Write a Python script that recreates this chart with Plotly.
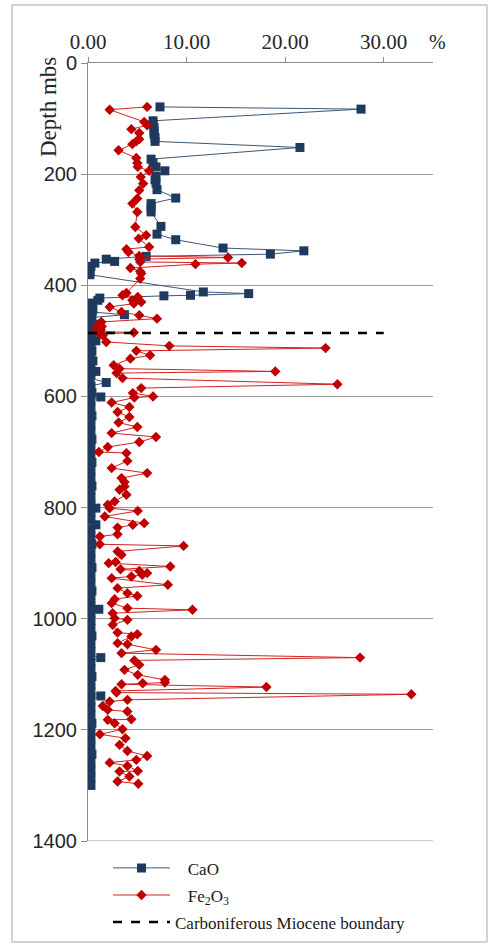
import plotly.graph_objects as go

# ---------------- data ----------------
cao_depth = [79, 83, 104, 110, 116, 122, 128, 134, 141, 152, 173, 180, 187, 194, 204, 210, 216, 228,
             243, 253, 260, 268, 294, 308, 318, 333, 338, 344, 348, 353, 357, 360, 366, 371, 376, 381,
             412, 415, 418, 419, 423, 427, 432, 437, 443, 448, 453, 458, 464, 470, 476, 482, 488, 494,
             500, 506, 512, 518, 524, 530, 536, 542, 548, 555, 561, 567, 575, 581, 587, 593, 601, 607,
             614, 621, 628, 635, 642, 649, 656, 663, 670, 677, 684, 691, 698, 705, 712, 719, 726, 733,
             740, 747, 754, 761, 768, 775, 782, 789, 795, 801, 808, 815, 822, 831, 838, 845, 852, 859,
             866, 873, 880, 887, 894, 901, 908, 915, 922, 929, 936, 943, 950, 957, 964, 971, 978, 983,
             989, 996, 1003, 1010, 1017, 1024, 1031, 1038, 1045, 1052, 1059, 1065, 1070, 1076, 1083,
             1090, 1097, 1104, 1111, 1118, 1125, 1132, 1139, 1146, 1153, 1160, 1167, 1174, 1181, 1188,
             1195, 1202, 1209, 1216, 1223, 1230, 1237, 1244, 1251, 1258, 1265, 1272, 1279, 1286, 1293, 1300]
cao_values = [7.3, 27.7, 6.6, 6.6, 6.7, 6.7, 6.7, 6.8, 6.8, 21.5, 6.4, 6.6, 6.9, 7.8, 6.9, 6.8, 6.9, 7.0,
              8.9, 6.4, 6.4, 6.4, 7.4, 7.0, 8.9, 13.7, 21.9, 18.5, 5.9, 1.85, 2.7, 0.7, 0.3, 0.2, 0.2, 0.2,
              11.7, 16.3, 10.4, 7.7, 1.2, 1.0, 0.3, 0.3, 0.5, 0.4, 3.7, 0.4, 0.3, 0.5, 0.2, 0.3, 0.4, 0.2,
              0.8, 0.3, 0.2, 0.4, 0.3, 0.2, 0.5, 0.3, 0.2, 0.8, 0.3, 0.2, 1.85, 0.3, 0.2, 0.4, 1.3, 0.3,
              0.2, 0.3, 0.2, 0.4, 0.2, 0.3, 0.2, 0.3, 0.2, 0.4, 0.2, 0.3, 0.2, 0.3, 0.2, 0.4, 0.2, 0.3,
              0.2, 0.3, 0.2, 0.4, 0.3, 0.2, 0.3, 0.2, 0.3, 0.8, 0.3, 0.2, 0.3, 0.8, 0.3, 0.2, 0.3, 0.2,
              0.4, 0.2, 0.3, 0.2, 0.3, 0.2, 0.4, 0.2, 0.3, 0.2, 0.3, 0.2, 0.4, 0.2, 0.3, 0.2, 0.3, 1.1,
              0.3, 0.2, 0.3, 0.2, 0.3, 0.2, 0.4, 0.2, 0.3, 0.2, 0.3, 0.2, 1.3, 0.3, 0.2,
              0.3, 0.2, 0.4, 0.2, 0.3, 0.2, 0.3, 1.3, 0.3, 0.2, 0.3, 0.2, 0.3, 0.2, 0.4,
              0.2, 0.3, 0.2, 0.3, 0.2, 0.3, 0.2, 0.4, 0.2, 0.3, 0.2, 0.3, 0.2, 0.3, 0.2, 0.3]

fe_depth = [79, 84, 106, 112, 119, 126, 137, 141, 146, 157, 171, 180, 187, 194, 205, 217, 229, 244, 253,
            268, 295, 310, 316, 331, 335, 340, 347, 350, 353, 358, 360, 362, 369, 375, 379, 388, 414, 418,
            421, 427, 430, 433, 439, 448, 454, 460, 466, 470, 474, 477, 480, 483, 485, 488, 490, 502, 509,
            513, 518, 526, 532, 544, 550, 555, 558, 567, 578, 585, 594, 600, 602, 611, 619, 628, 637, 647,
            655, 666, 673, 682, 691, 700, 702, 716, 729, 738, 747, 754, 762, 768, 777, 789, 795, 801, 806,
            816, 828, 831, 836, 848, 852, 866, 869, 879, 885, 898, 900, 906, 911, 914, 918, 921, 924, 927,
            939, 945, 954, 959, 965, 972, 981, 984, 990, 999, 1002, 1011, 1025, 1028, 1032, 1044, 1046,
            1056, 1062, 1070, 1075, 1083, 1092, 1101, 1110, 1115, 1116, 1118, 1123, 1130, 1133, 1136,
            1146, 1149, 1157, 1164, 1167, 1181, 1182, 1188, 1199, 1208, 1215, 1227, 1238, 1247, 1254,
            1259, 1265, 1274, 1275, 1284, 1293, 1297]
fe_values = [6.0, 2.2, 5.7, 6.0, 4.4, 5.2, 5.2, 4.9, 4.5, 3.1, 4.9, 5.0, 5.05, 6.2, 5.35, 5.6, 5.2, 5.0, 4.5,
             5.0, 4.8, 5.9, 5.15, 6.2, 3.9, 4.1, 5.2, 14.2, 5.2, 5.3, 15.6, 10.9, 4.3, 5.3, 5.4, 5.3, 3.9, 3.5,
             5.05, 4.5, 5.4, 4.65, 2.2, 3.4, 5.2, 7.0, 1.35, 1.1, 1.4, 0.9, 1.3, 1.0, 4.65, 1.2, 1.5, 1.85, 8.25,
             24.1, 4.9, 6.3, 4.3, 2.6, 3.2, 19.0, 2.9, 3.5, 25.3, 5.4, 4.55, 6.6, 4.7, 2.4, 4.2, 3.0, 4.2, 3.1,
             5.0, 2.4, 6.9, 5.2, 2.0, 1.1, 3.9, 4.0, 2.4, 6.0, 3.4, 3.7, 3.7, 3.2, 3.9, 2.7, 2.0, 2.2, 5.05,
             1.7, 5.7, 4.55, 3.0, 3.0, 1.2, 1.2, 9.7, 3.0, 3.4, 2.8, 2.1, 8.35, 3.3, 5.2, 6.0, 5.5, 4.4, 2.4,
             8.1, 3.0, 4.0, 5.0, 2.7, 2.4, 4.0, 10.6, 2.5, 2.7, 4.0, 2.5, 3.0, 5.0, 4.4, 3.0, 4.0,
             6.9, 3.4, 27.6, 4.7, 5.2, 3.7, 5.05, 7.8, 7.8, 5.55, 3.4, 18.1, 2.8, 2.9, 32.8,
             4.0, 2.2, 1.5, 2.0, 4.0, 4.4, 2.0, 2.7, 3.5, 1.2, 3.8, 3.2, 4.0, 6.0, 4.9,
             2.2, 4.0, 5.05, 3.2, 4.2, 3.0, 5.1]

boundary_depth = [486, 486]
boundary_x = [0, 30]

x_tick_vals = [0, 10, 20, 30]
x_tick_text = ["0.00", "10.00", "20.00", "30.00"]
y_tick_vals = [0, 200, 400, 600, 800, 1000, 1200, 1400]

# ---------------- figure ----------------
fig = go.Figure()

fig.add_trace(go.Scatter(
    x=cao_values, y=cao_depth, mode="lines+markers",
    name="\u00a0\u00a0\u00a0CaO", legendgroup="g1",
    line=dict(color="#3E5676", width=1),
    marker=dict(symbol="square", size=9, color="#1F3A5F"),
))
fig.add_trace(go.Scatter(
    x=fe_values, y=fe_depth, mode="lines+markers",
    name="\u00a0\u00a0\u00a0Fe<sub>2</sub>O<sub>3</sub>", legendgroup="g2",
    line=dict(color="#D42222", width=1),
    marker=dict(symbol="diamond", size=8, color="#C00000"),
))
fig.add_trace(go.Scatter(
    x=boundary_x, y=boundary_depth, mode="lines",
    name="Carboniferous Miocene boundary", legendgroup="g3",
    line=dict(color="black", width=2.5, dash="dash"),
))

fig.update_layout(
    width=490, height=946,
    margin=dict(l=88, r=57, t=63, b=105, autoexpand=False),
    paper_bgcolor="white", plot_bgcolor="white",
    showlegend=True,
    legend=dict(
        x=0.058, y=-0.012, xanchor="left", yanchor="top",
        font=dict(family="Liberation Serif", size=17, color="#1a1a1a"),
        itemwidth=57, bgcolor="rgba(0,0,0,0)", tracegroupgap=2,
    ),
    xaxis=dict(
        side="top", range=[0, 35], tickvals=x_tick_vals, ticktext=x_tick_text,
        showgrid=False, zeroline=False, showline=True, linecolor="#8C8C8C", linewidth=1,
        ticks="outside", ticklen=5, tickcolor="#8C8C8C",
        tickfont=dict(family="Liberation Serif", size=21, color="#262626"),
        automargin=False,
    ),
    yaxis=dict(
        range=[1400, 0], tickvals=y_tick_vals, ticksuffix="\u00a0\u00a0\u00a0\u00a0",
        showgrid=True, gridcolor="#9A9A9A", gridwidth=1, zeroline=False,
        showline=True, linecolor="#8C8C8C", linewidth=1,
        ticks="outside", ticklen=6, tickcolor="#8C8C8C",
        tickfont=dict(family="Liberation Sans", size=20, color="#262626"),
        automargin=False,
    ),
    shapes=[
        dict(type="line", xref="paper", yref="y", x0=0, x1=1, y0=1400, y1=1400,
             line=dict(color="#9A9A9A", width=1)),
        dict(type="rect", xref="paper", yref="paper", x0=-0.2203, x1=1.1565, y0=-0.1298, y1=1.0746,
             line=dict(color="#A6A6A6", width=1), fillcolor="rgba(0,0,0,0)", layer="below"),
    ],
    annotations=[
        dict(text="%", xref="paper", yref="paper", x=(437 - 88) / 345, y=(841 - 42) / 778,
             xanchor="center", yanchor="middle",
             showarrow=False, font=dict(family="Liberation Serif", size=20, color="#262626")),
        dict(text="Depth mbs", xref="paper", yref="paper", x=(48 - 88) / 345, y=(841 - 107) / 778,
             xanchor="center", yanchor="middle",
             textangle=-90, showarrow=False,
             font=dict(family="Liberation Serif", size=23, color="#262626")),
    ],
)

fig.write_html("out.html", config={"displayModeBar": False},
               post_script="document.body.style.margin='0';")
